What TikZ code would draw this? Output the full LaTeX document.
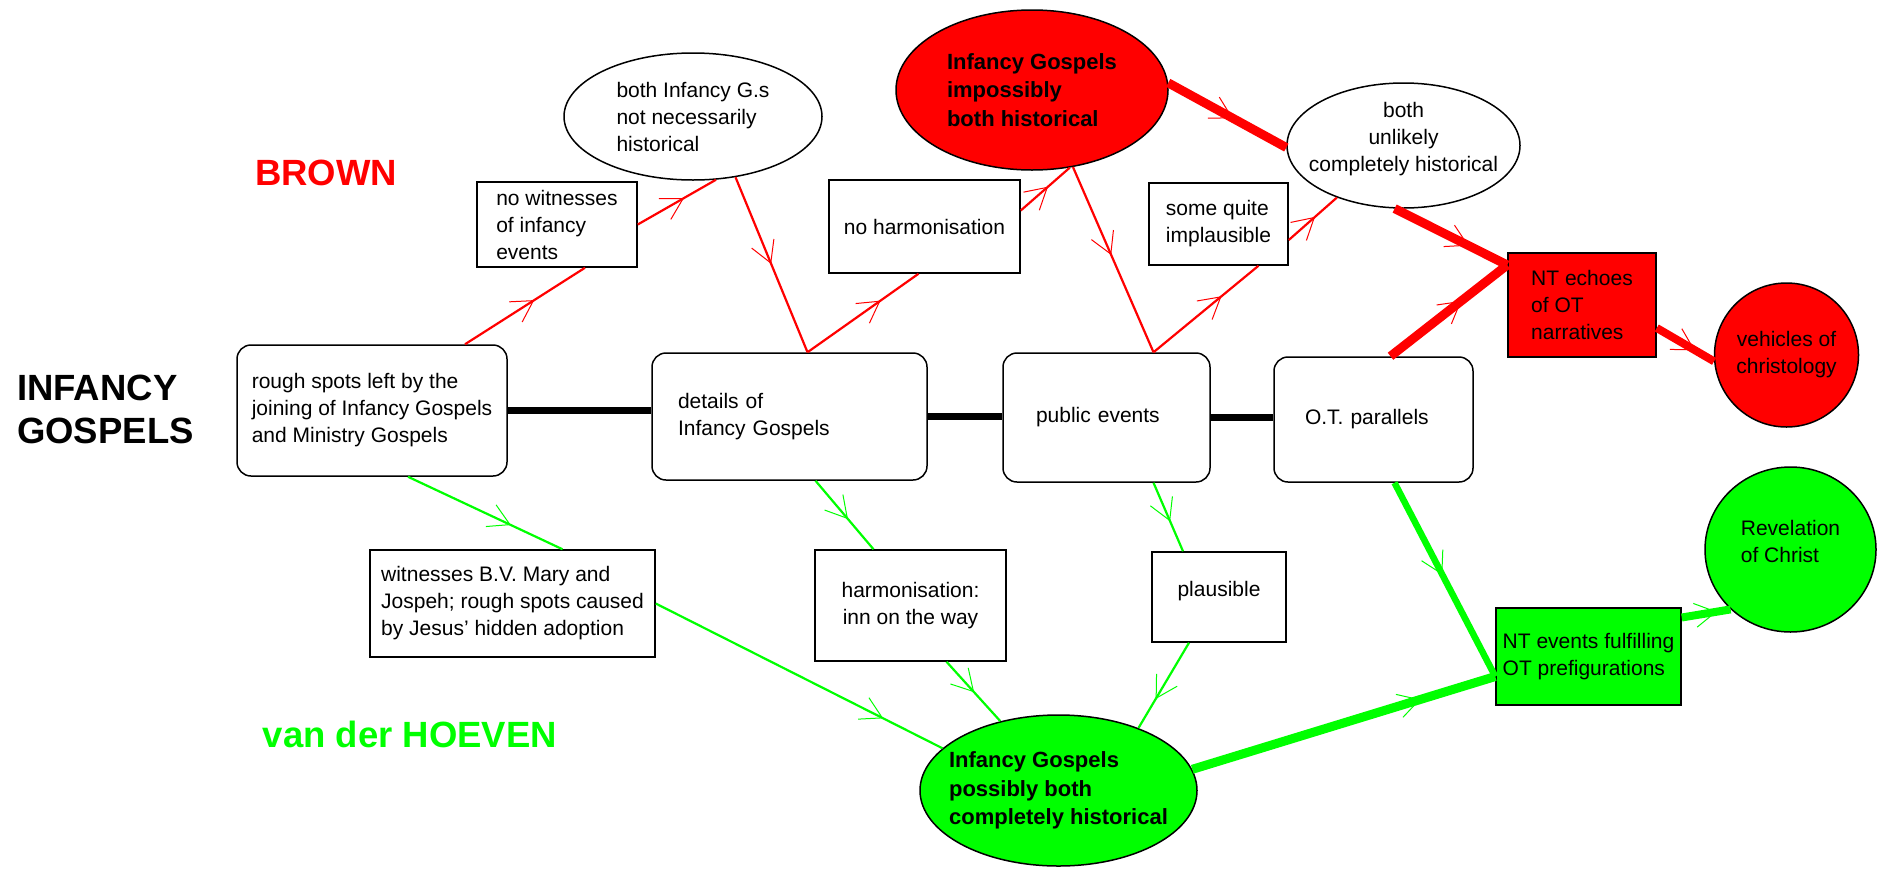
\documentclass[tikz,border=0pt]{standalone}
\usepackage{fontspec}
\setmainfont{Liberation Sans}
\usetikzlibrary{shapes.geometric,decorations.markings}

\definecolor{brred}{RGB}{255,0,0}
\definecolor{hogreen}{RGB}{0,255,0}

\newcommand{\boxfont}{\fontsize{21}{27}\selectfont}
\newcommand{\ellfont}{\fontsize{22}{28.5}\selectfont\bfseries}
\newcommand{\headfont}{\fontsize{36.5}{43}\selectfont\bfseries}

\begin{document}
\begin{tikzpicture}[
    x=1pt, y=-1pt,
    box/.style={rectangle, draw, line width=1.5pt, fill=white, font=\boxfont, align=left, inner sep=0pt},
    rbox/.style={box, rounded corners=14pt},
    oval/.style={ellipse, draw, line width=1.5pt, inner xsep=-40pt, inner ysep=-20pt, font=\boxfont, align=left},
    heading/.style={font=\headfont, inner sep=0pt},
    rowlink/.style={draw=black, line width=7pt},
    midarrow/.style={postaction={decorate}, decoration={markings, mark=at position #1 with {\draw[line width=1pt] (-21pt,12pt) -- (0pt,0pt) -- (-21pt,-12pt);}}},
    redthin/.style={color=brred, line width=2.2pt},
    redthick/.style={color=brred, line width=9pt},
    greenthin/.style={color=hogreen, line width=2.2pt},
    greenthick/.style={color=hogreen, line width=9pt}
]
    \path[fill=white] (0,0) rectangle (1881,873);
    \useasboundingbox (0,0) rectangle (1881,873);

    % Titles
    \node[heading, text=brred] (brown) at (326,173) {BROWN};
    \node[heading, anchor=west, align=left] (infancy) at (17,409) {INFANCY\\GOSPELS};
    \node[heading, text=hogreen] (hoeven) at (410,734) {van der HOEVEN};

    % Main row
    \node[rbox, minimum width=270pt, minimum height=131pt] (rough) at (372,410.5) {rough spots left by the\\joining of Infancy Gospels\\and Ministry Gospels};
    \node[rbox, text width=223pt, minimum width=275pt, minimum height=127pt] (details) at (789.5,416.5) {details of\\Infancy Gospels};
    \node[rbox, text width=141pt, minimum width=207pt, minimum height=129pt] (public) at (1106.5,417.5) {public events};
    \node[rbox, text width=137pt, minimum width=199pt, minimum height=125pt] (otpar) at (1373.5,419.5) {O.T. parallels};

    % Brown
    \node[oval, minimum width=258pt, minimum height=127pt] (bothnot) at (693,116.5) {both Infancy G.s\\not necessarily\\historical};
    \node[oval, fill=brred, font=\ellfont, minimum width=272pt, minimum height=160pt] (impossibly) at (1032,90) {Infancy Gospels\\impossibly\\both historical};
    \node[oval, align=center, text depth=18pt, minimum width=233pt, minimum height=125pt] (unlikely) at (1403.5,145.5) {both\\unlikely\\completely historical};
    \node[box, minimum width=160pt, minimum height=85pt] (nowit) at (557,224.5) {no witnesses\\of infancy\\events};
    \node[box, minimum width=191pt, minimum height=93pt] (noharm) at (924.5,226.5) {no harmonisation};
    \node[box, minimum width=139pt, minimum height=82pt] (implaus) at (1218.5,224) {some quite\\implausible};
    \node[box, fill=brred, minimum width=148pt, minimum height=104pt] (echoes) at (1582,305) {NT echoes\\of OT\\narratives};
    \node[circle, draw, line width=1.5pt, fill=brred, font=\boxfont, align=center, inner sep=0pt, minimum size=144pt] (vehicles) at (1786.5,355) {vehicles of\\christology};

    % van der Hoeven
    \node[box, minimum width=285pt, minimum height=107pt] (witness) at (512.5,603.5) {witnesses B.V. Mary and\\Jospeh; rough spots caused\\by Jesus' hidden adoption};
    \node[box, align=center, minimum width=191pt, minimum height=111pt] (inn) at (910.5,605.5) {harmonisation:\\inn on the way};
    \node[box, align=center, text depth=16pt, minimum width=134pt, minimum height=90pt] (plausible) at (1219,597) {plausible};
    \node[oval, fill=hogreen, font=\ellfont, minimum width=277pt, minimum height=151pt] (possibly) at (1058.5,790.5) {Infancy Gospels\\possibly both\\completely historical};
    \node[box, fill=hogreen, minimum width=185pt, minimum height=97pt] (fulfil) at (1588.5,656.5) {NT events fulfilling\\OT prefigurations};
    \node[oval, fill=hogreen, text depth=16pt, minimum width=171pt, minimum height=165pt] (revelation) at (1790.5,549.5) {Revelation\\of Christ};

    % Row links
    \draw[rowlink] (rough.east) -- (rough.east -| details.west);
    \draw[rowlink] (details.east) -- (details.east -| public.west);
    \draw[rowlink] (public.east) -- (public.east -| otpar.west);

    % Brown arrows
    \draw[redthin, midarrow=0.57] ([xshift=93pt]rough.north) -- ([xshift=28pt]nowit.south);
    \draw[redthin, midarrow=0.58] (nowit.east) -- (bothnot.290);
    \draw[redthin, midarrow=0.49] (bothnot.305) -- ([xshift=18pt]details.north);
    \draw[redthin, midarrow=0.65] ([xshift=18pt]details.north) -- ([xshift=-6pt]noharm.south);
    \draw[redthin, midarrow=0.54] ([yshift=16pt]noharm.east) -- (impossibly.296);
    \draw[redthin, midarrow=0.47] (impossibly.298) -- ([xshift=47pt]public.north);
    \draw[redthin, midarrow=0.64] ([xshift=47pt]public.north) -- ([xshift=40pt]implaus.south);
    \draw[redthin, midarrow=0.53] ([yshift=-16pt]implaus.east) -- (unlikely.218);
    \draw[redthick, midarrow=0.54] (impossibly.3) -- (unlikely.181);
    \draw[redthick, midarrow=0.65] (unlikely.262) -- ([yshift=40pt]echoes.west);
    \draw[redthick, midarrow=0.6] ([xshift=17pt]otpar.north) -- ([yshift=40pt]echoes.west);
    \draw[redthick, line width=8pt, midarrow=0.65] ([yshift=-23pt]echoes.east) -- (vehicles.185);

    % Green arrows
    \draw[greenthin, midarrow=0.66] ([xshift=36pt]rough.south) -- ([xshift=50pt]witness.north);
    \draw[greenthin, midarrow=0.79] (witness.east) -- (possibly.160);
    \draw[greenthin, midarrow=0.55] ([xshift=26pt]details.south) -- ([xshift=-37pt]inn.north);
    \draw[greenthin, midarrow=0.5] ([xshift=36pt]inn.south) -- (possibly.130);
    \draw[greenthin, midarrow=0.55] ([xshift=47pt]public.south) -- ([xshift=-36pt]plausible.north);
    \draw[greenthin, midarrow=0.65] ([xshift=-30pt]plausible.south) -- (possibly.38);
    \draw[greenthick, midarrow=0.75] (possibly.9) -- ([yshift=-20pt]fulfil.west);
    \draw[greenthick, line width=6.5pt, midarrow=0.47] ([xshift=21pt]otpar.south) -- ([yshift=-20pt]fulfil.west);
    \draw[greenthick, line width=8pt, midarrow=0.7] ([yshift=39pt]fulfil.east) -- (revelation.225);
\end{tikzpicture}
\end{document}
